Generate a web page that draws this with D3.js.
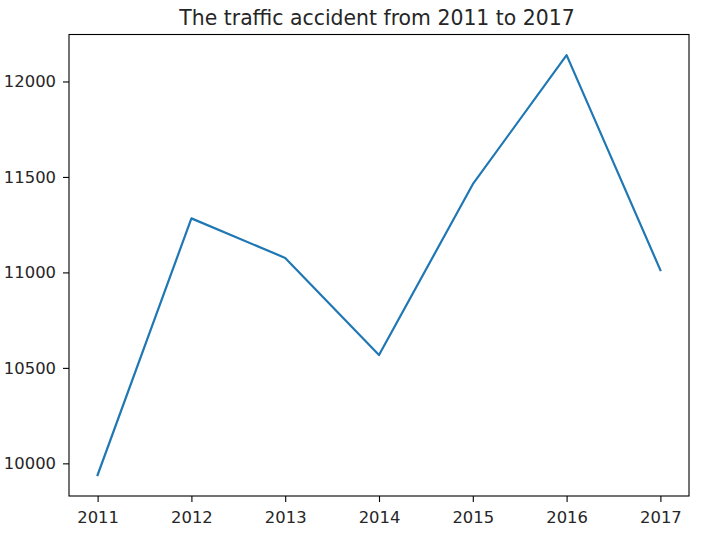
<!DOCTYPE html>
<html><head><meta charset="utf-8">
<script src="https://cdn.jsdelivr.net/npm/d3@7"></script>
<style>body{margin:0;background:#fff}svg{display:block}text{font-family:"DejaVu Sans",sans-serif;fill:#262626}</style>
</head><body><svg id="c" width="714" height="534"></svg>
<script>
const years = [2011, 2012, 2013, 2014, 2015, 2016, 2017];
const accidents = [9939, 11283, 11076, 10567, 11462, 12138, 11012];
const yTicks = [10000, 10500, 11000, 11500, 12000];
const title = "The traffic accident from 2011 to 2017";

const svg = d3.select("#c");
const L = 69, R = 689, T = 34.5, B = 496;
const x = d3.scaleLinear().domain([2010.695, 2017.305]).range([L, R]);
const y = d3.scaleLinear().domain([9829, 12246]).range([B, T]);

const xa = svg.append("g").attr("transform", `translate(0,${B})`)
  .call(d3.axisBottom(x).tickValues(years).tickFormat(d3.format("d")).tickSize(6).tickPadding(9));
const ya = svg.append("g").attr("transform", `translate(${L},0)`)
  .call(d3.axisLeft(y).tickValues(yTicks).tickFormat(d3.format("d")).tickSize(6).tickPadding(7));
[xa, ya].forEach(a => {
  a.select(".domain").remove();
  a.selectAll("line").attr("stroke", "#000").attr("stroke-width", 1.1);
  a.selectAll("text").attr("font-size", 16.4).attr("fill", "#262626").style("font-family", "DejaVu Sans");
});

svg.append("path").datum(years.map((d, i) => [d, accidents[i]]))
  .attr("fill", "none").attr("stroke", "#1f77b4").attr("stroke-width", 2.2)
  .attr("stroke-linejoin", "round").attr("stroke-linecap", "square")
  .attr("d", d3.line().x(d => x(d[0])).y(d => y(d[1])));

svg.append("rect").attr("x", L).attr("y", T).attr("width", R - L).attr("height", B - T)
  .attr("fill", "none").attr("stroke", "#000").attr("stroke-width", 1.1);

svg.append("text").attr("x", 377).attr("y", 25).attr("text-anchor", "middle")
  .attr("font-size", 20.4).text(title);
</script></body></html>
